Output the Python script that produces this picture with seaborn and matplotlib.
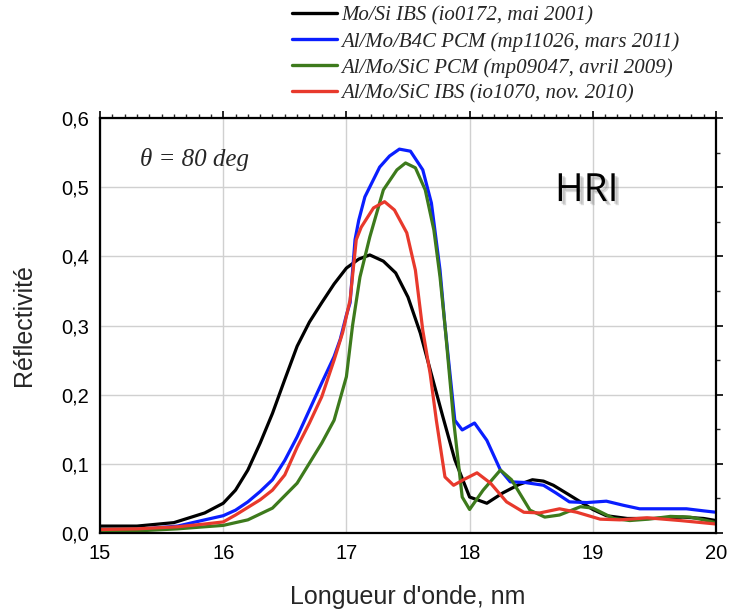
import numpy as np
import pandas as pd
import matplotlib
matplotlib.use("Agg")
import matplotlib.pyplot as plt
import matplotlib.patheffects as pe
from matplotlib.ticker import MultipleLocator
from matplotlib.lines import Line2D
import seaborn as sns

# ---------------- data ----------------
labels = ["Mo/Si IBS (io0172, mai 2001)",
          "Al/Mo/B4C PCM (mp11026, mars 2011)",
          "Al/Mo/SiC PCM (mp09047, avril 2009)",
          "Al/Mo/SiC IBS (io1070, nov. 2010)"]

mosi_x = [15.0, 15.3, 15.6, 15.85, 16.0, 16.1, 16.2, 16.3, 16.4, 16.5, 16.6, 16.7, 16.8, 16.9,
          17.0, 17.1, 17.19, 17.3, 17.4, 17.5, 17.6, 17.68, 17.78, 17.88, 18.0, 18.14, 18.27,
          18.4, 18.51, 18.6, 18.68, 18.8, 18.9, 19.0, 19.11, 19.28, 19.5, 19.73, 19.9, 20.0]
mosi_y = [0.010, 0.010, 0.015, 0.029, 0.043, 0.062, 0.091, 0.130, 0.173, 0.222, 0.270, 0.305,
          0.333, 0.360, 0.383, 0.396, 0.402, 0.393, 0.376, 0.341, 0.289, 0.236, 0.170, 0.106,
          0.052, 0.043, 0.058, 0.070, 0.077, 0.075, 0.069, 0.056, 0.045, 0.034, 0.025, 0.021,
          0.021, 0.023, 0.021, 0.018]

b4c_x = [15.0, 15.3, 15.63, 15.85, 16.0, 16.1, 16.2, 16.3, 16.4, 16.5, 16.6, 16.7, 16.8, 16.9,
         16.95, 17.0, 17.03, 17.07, 17.1, 17.15, 17.27, 17.35, 17.43, 17.52, 17.62, 17.69,
         17.76, 17.8, 17.88, 17.94, 18.04, 18.14, 18.25, 18.33, 18.45, 18.6, 18.7, 18.81,
         18.95, 19.11, 19.25, 19.38, 19.6, 19.76, 19.9, 20.0]
b4c_y = [0.004, 0.005, 0.010, 0.019, 0.025, 0.033, 0.045, 0.060, 0.077, 0.105, 0.139, 0.178,
         0.217, 0.255, 0.280, 0.315, 0.333, 0.424, 0.452, 0.486, 0.529, 0.545, 0.555, 0.552,
         0.525, 0.477, 0.380, 0.300, 0.163, 0.149, 0.159, 0.134, 0.091, 0.074, 0.073, 0.069,
         0.058, 0.045, 0.044, 0.046, 0.040, 0.035, 0.035, 0.035, 0.032, 0.030]

sic_pcm_x = [15.0, 15.3, 15.63, 15.85, 16.0, 16.2, 16.4, 16.6, 16.8, 16.9, 17.0, 17.05, 17.11,
             17.19, 17.3, 17.41, 17.48, 17.56, 17.64, 17.71, 17.76, 17.8, 17.87, 17.94, 18.0,
             18.11, 18.25, 18.34, 18.49, 18.61, 18.73, 18.9, 19.0, 19.17, 19.3, 19.45, 19.63,
             19.79, 19.9, 20.0]
sic_pcm_y = [0.002, 0.003, 0.006, 0.009, 0.011, 0.019, 0.036, 0.072, 0.130, 0.163, 0.226,
             0.300, 0.370, 0.428, 0.496, 0.525, 0.535, 0.528, 0.496, 0.438, 0.370, 0.300,
             0.163, 0.052, 0.034, 0.062, 0.091, 0.077, 0.033, 0.023, 0.026, 0.038, 0.036,
             0.021, 0.018, 0.020, 0.024, 0.023, 0.019, 0.015]

sic_ibs_x = [15.0, 15.3, 15.63, 15.85, 16.0, 16.1, 16.2, 16.3, 16.4, 16.5, 16.6, 16.7, 16.8,
             16.9, 16.97, 17.03, 17.08, 17.12, 17.22, 17.31, 17.39, 17.49, 17.56, 17.62, 17.68,
             17.73, 17.8, 17.87, 17.95, 18.06, 18.17, 18.3, 18.44, 18.57, 18.73, 18.87, 19.06,
             19.22, 19.44, 19.71, 20.0]
sic_ibs_y = [0.005, 0.006, 0.009, 0.013, 0.016, 0.026, 0.037, 0.048, 0.062, 0.084, 0.124,
             0.159, 0.197, 0.250, 0.290, 0.337, 0.424, 0.442, 0.470, 0.479, 0.467, 0.434,
             0.380, 0.293, 0.230, 0.163, 0.081, 0.069, 0.077, 0.087, 0.072, 0.045, 0.030,
             0.029, 0.035, 0.030, 0.020, 0.019, 0.022, 0.018, 0.013]

colors = ["#000000", "#0a1eff", "#3d7a1c", "#e8392c"]

xticks = [15, 16, 17, 18, 19, 20]
yticks = [0.0, 0.1, 0.2, 0.3, 0.4, 0.5, 0.6]
ytick_labels = ["0,0", "0,1", "0,2", "0,3", "0,4", "0,5", "0,6"]

# ---------------- figure ----------------
sns.set_style("white")
plt.rcParams["font.family"] = ["Liberation Sans", "DejaVu Sans"]

frames = []
for lab, xs, ys in zip(labels, [mosi_x, b4c_x, sic_pcm_x, sic_ibs_x],
                       [mosi_y, b4c_y, sic_pcm_y, sic_ibs_y]):
    frames.append(pd.DataFrame({"x": xs, "y": ys, "serie": lab}))
df = pd.concat(frames, ignore_index=True)

fig = plt.figure(figsize=(7.29, 6.13), dpi=100)
ax = fig.add_axes([100 / 729, 80 / 613, 616 / 729, 415 / 613])

sns.lineplot(data=df, x="x", y="y", hue="serie", hue_order=labels,
             palette=colors, sort=False, estimator=None, linewidth=2.3, ax=ax,
             legend=False)

ax.set_xlim(15, 20)
ax.set_ylim(0, 0.6)
ax.set_xticks(xticks)
ax.set_yticks(yticks)
ax.set_yticklabels(ytick_labels)
ax.xaxis.set_minor_locator(MultipleLocator(0.1))
ax.yaxis.set_minor_locator(MultipleLocator(0.05))
ax.grid(True, which="major", color="#d0d0d0", linewidth=1.0)
ax.set_axisbelow(True)

for s in ax.spines.values():
    s.set_linewidth(1.6)
    s.set_color("black")
ax.tick_params(which="major", direction="out", length=5, width=1.2,
               top=True, right=True, labelsize=14.5, colors="black", pad=3)
ax.tick_params(which="minor", direction="out", length=3, width=1.0,
               top=True, right=True)

ax.set_xlabel("Longueur d'onde, nm", fontsize=18, labelpad=16)
ax.set_ylabel("Réflectivité", fontsize=18, labelpad=18)

# legend above the plot
handles = [Line2D([], [], color=c, linewidth=2.4) for c in colors]
fig.legend(handles, labels, loc="upper left",
           bbox_to_anchor=(292 / 729, 1.0 - 6 / 613),
           frameon=False, handlelength=2.15, handletextpad=0.22, labelspacing=0.3,
           borderaxespad=0.0, borderpad=0.0,
           prop={"family": "Liberation Serif", "style": "italic", "size": 15})

ax.text(0.065, 0.90, "θ = 80 deg", transform=ax.transAxes, fontsize=18,
        family="Liberation Serif", style="italic", va="center", ha="left")

shadow = [pe.SimplePatchShadow(offset=(3, -3), shadow_rgbFace="#777777", alpha=0.25),
          pe.SimplePatchShadow(offset=(2, -2), shadow_rgbFace="#777777", alpha=0.25),
          pe.Normal()]
ax.text(0.79, 0.824, "HRI", transform=ax.transAxes, fontsize=28,
        family="Open Sans", va="center", ha="center", color="black",
        path_effects=shadow)

fig.savefig("out.png", dpi=100)
